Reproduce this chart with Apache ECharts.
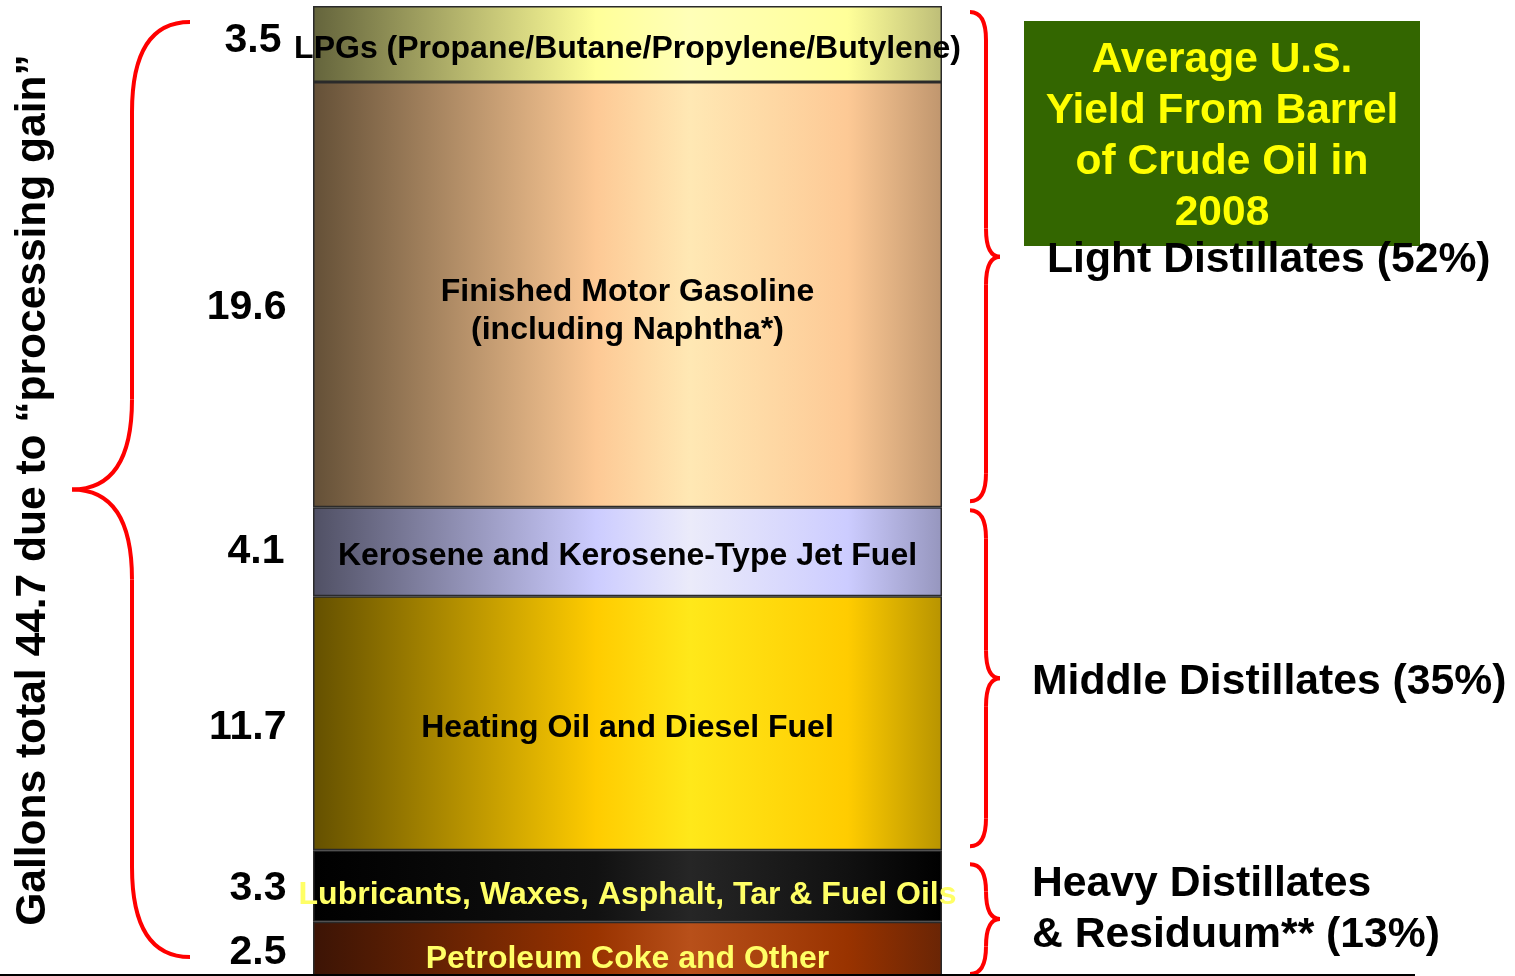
<!DOCTYPE html>
<html>
<head>
<meta charset="utf-8">
<script src="https://cdn.jsdelivr.net/npm/echarts@6/dist/echarts.min.js"></script>
<style>
html,body{margin:0;padding:0;background:#fff;}
#chart{width:1515px;height:976px;}
</style>
</head>
<body>
<div id="chart"></div>
<script>
// ---- data (bottom of barrel to top) ----
const products = [
  'Petroleum Coke and Other',
  'Lubricants, Waxes, Asphalt, Tar & Fuel Oils',
  'Heating Oil and Diesel Fuel',
  'Kerosene and Kerosene-Type Jet Fuel',
  'Finished Motor Gasoline\n(including Naphtha*)',
  'LPGs (Propane/Butane/Propylene/Butylene)'
];
const gallons = [2.5, 3.3, 11.7, 4.1, 19.6, 3.5];
const groupNames = ['Heavy Distillates\n& Residuum** (13%)', 'Middle Distillates (35%)', 'Light Distillates (52%)'];
const groupFirst = [0, 2, 4];   // index of first product in group
const groupLast = [1, 3, 5];    // index of last product in group
const totalText = 'Gallons total 44.7 due to \u201Cprocessing gain\u201D';
const titleText = 'Average U.S.\nYield From Barrel\nof Crude Oil in\n2008';
const categories = ['Barrel'];

// ---- styles ----
const FONT = "'Liberation Sans', Arial, sans-serif";
function grad(c0, cb, cl, c1) {
  return new echarts.graphic.LinearGradient(0, 0, 1, 0, [
    {offset: 0, color: c0}, {offset: 0.45, color: cb}, {offset: 0.6, color: cl},
    {offset: 0.85, color: cb}, {offset: 1, color: c1}
  ]);
}
const fills = [
  grad('#3c1405', '#993300', '#b8501a', '#6a2505'),
  grad('#000000', '#111111', '#262626', '#000000'),
  grad('#645000', '#ffcc00', '#ffe81a', '#b89400'),
  grad('#505064', '#ccccff', '#ebebfa', '#9696be'),
  grad('#645037', '#fdc995', '#ffe8b4', '#c0966e'),
  grad('#64643c', '#ffff99', '#ffffb8', '#bebe78')
];
const labelColors = ['#ffff66', '#ffff66', '#000', '#000', '#000', '#000'];
const labelOffsets = [[0, 10], [0, 9], [0, 5], [0, 4], [0, 17], [0, 5]];
const numOffsets = [[0, 4], [0, 3], [0, 4], [-2, 0], [0, 13], [-5, -3]];

// cumulative positions
const cum = [];
let acc = 0;
gallons.forEach(v => { cum.push(acc); acc += v; });
const total = acc;

const series = gallons.map((v, i) => ({
  name: products[i],
  type: 'bar',
  stack: 'barrel',
  barWidth: '100%',
  data: [v],
  itemStyle: {color: fills[i], borderColor: '#2a2a2a', borderWidth: 1.5},
  label: {
    show: true, position: 'inside', formatter: products[i],
    color: labelColors[i], fontFamily: FONT, fontWeight: 'bold', fontSize: 32,
    lineHeight: 38, offset: labelOffsets[i]
  }
}));

series.push({
  type: 'scatter',
  symbolSize: 0,
  silent: true,
  itemStyle: {opacity: 1},
  data: gallons.map((v, i) => ({
    value: [0, cum[i] + v / 2],
    label: {offset: numOffsets[i]}
  })),
  label: {
    show: true, position: 'left', distance: 341,
    formatter: p => gallons[p.dataIndex].toFixed(1),
    color: '#000', fontFamily: FONT, fontWeight: 'bold', fontSize: 41
  },
  z: 5
});

const chart = echarts.init(document.getElementById('chart'), null, {renderer: 'canvas'});
chart.setOption({
  animation: false,
  backgroundColor: '#fff',
  grid: {left: 313, width: 629, top: 6, height: 971},
  xAxis: {type: 'category', data: categories, show: false},
  yAxis: {type: 'value', min: 0, max: total, show: false},
  series: series
});

// ---- annotations: braces, group labels, title box ----
function yPx(v) { return chart.convertToPixel({gridIndex: 0}, [0, v])[1]; }
const braceStyle = {fill: null, stroke: '#ff0000', lineWidth: 4};
const graphics = [];
function brace(xe, xm, xt, y0, y1, r, rt) {
  const ym = (y0 + y1) / 2;
  const q = (x1, y1_, cx, cy, x2, y2) => ({type: 'bezierCurve', shape: {x1: x1, y1: y1_, cpx1: cx, cpy1: cy, x2: x2, y2: y2}, style: braceStyle, z: 15});
  const l = (x1, y1_, x2, y2) => ({type: 'line', shape: {x1: x1, y1: y1_, x2: x2, y2: y2}, style: braceStyle, z: 15});
  graphics.push(q(xe, y0, xm, y0, xm, y0 + r));
  graphics.push(l(xm, y0 + r, xm, ym - rt));
  graphics.push(q(xm, ym - rt, xm, ym, xt, ym));
  graphics.push(q(xt, ym, xm, ym, xm, ym + rt));
  graphics.push(l(xm, ym + rt, xm, y1 - r));
  graphics.push(q(xm, y1 - r, xm, y1, xe, y1));
}

// left brace over whole barrel
const yTop = yPx(total), yBot = yPx(0);
brace(190, 132, 72, yTop + 16, yBot - 19, 90, 90);

// right group braces
const insets = [[14, 2], [3, 4], [6, 6]];
const labelX = [1032, 1032, 1047];
const labelDy = [-9, 4, 4];
groupNames.forEach((g, k) => {
  const top = yPx(cum[groupLast[k]] + gallons[groupLast[k]]) + insets[k][0];
  const bot = yPx(cum[groupFirst[k]]) - insets[k][1];
  const r = Math.min(28, (bot - top) / 4);
  brace(970, 986, 1000, top, bot, r, r);
  graphics.push({type: 'text', x: labelX[k], y: (top + bot) / 2 + labelDy[k], z: 20,
    style: {text: g, fill: '#000', font: 'bold 42.7px ' + FONT, textAlign: 'left', textVerticalAlign: 'middle', lineHeight: 51}});
});

// title box
graphics.push({type: 'rect', shape: {x: 1024, y: 21, width: 396, height: 225}, style: {fill: '#336600'}, z: 10});
graphics.push({type: 'text', x: 1222, y: 137, z: 11,
  style: {text: titleText, fill: '#ffff00', font: 'bold 42.5px ' + FONT, textAlign: 'center', textVerticalAlign: 'middle', lineHeight: 51}});

// left vertical text
graphics.push({type: 'text', x: 33, y: 490, rotation: Math.PI / 2,
  style: {text: totalText, fill: '#000', font: 'bold 42.5px ' + FONT, textAlign: 'center', textVerticalAlign: 'middle'}});

// bottom rule
graphics.push({type: 'line', shape: {x1: 0, y1: 975, x2: 1415, y2: 975}, style: {stroke: '#000', lineWidth: 2}, z: 30});

chart.setOption({graphic: graphics});
</script>
</body>
</html>
